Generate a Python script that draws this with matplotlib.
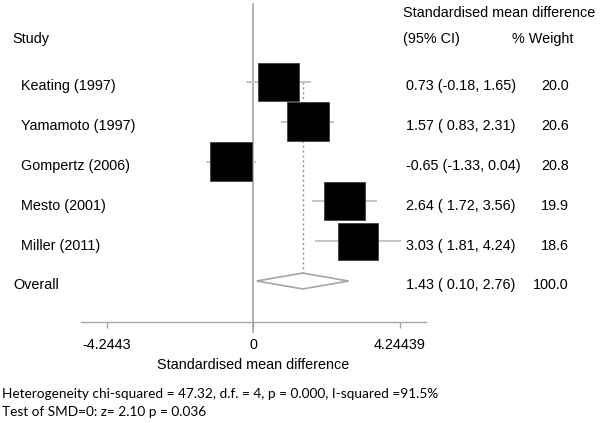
import matplotlib
matplotlib.use("Agg")
import matplotlib.pyplot as plt
import matplotlib.transforms as mtransforms
from matplotlib.patches import Rectangle, Polygon
import numpy as np

# study level data
studies = ["Keating (1997)", "Yamamoto (1997)", "Gompertz (2006)", "Mesto (2001)", "Miller (2011)"]
smd = [0.73, 1.57, -0.65, 2.64, 3.03]
ci_low = [-0.18, 0.83, -1.33, 1.72, 1.81]
ci_high = [1.65, 2.31, 0.04, 3.56, 4.24]
weights = [20.0, 20.6, 20.8, 19.9, 18.6]

# pooled estimate
overall_smd = 1.43
overall_low = 0.10
overall_high = 2.76
overall_weight = 100.0

xticks = [-4.2443, 0, 4.24439]
xtick_labels = ["-4.2443", "0", "4.24439"]
footer = [
    "Heterogeneity chi-squared = 47.32, d.f. = 4, p = 0.000, I-squared =91.5%",
    "Test of SMD=0: z= 2.10 p = 0.036",
]

plt.rcParams["font.family"] = ["Liberation Sans", "DejaVu Sans"]
FS = 10.4
GREY = "#a6a6a6"


def main():
    fig = plt.figure(figsize=(6.0, 4.23), dpi=100)
    ax = fig.add_axes([0.1345, 0.2397, 0.5755, 0.7508])
    ax.set_xlim(-5.0, 5.0)
    ax.set_ylim(7.02, -0.96)

    rows = np.arange(1, len(studies) + 1)
    overall_row = len(studies) + 1

    # null line, slightly past the axis
    ax.axvline(0, ymin=-0.032, ymax=1, color=GREY, lw=1.2, clip_on=False, zorder=1)
    # pooled estimate line
    ax.plot([overall_smd, overall_smd], [rows[0], overall_row + 0.2],
            color="#909090", lw=1.0, ls=(0, (1.5, 2)), zorder=1)

    for r, est, lo, hi, w in zip(rows, smd, ci_low, ci_high, weights):
        ax.plot([lo, hi], [r, r], color="#c4c4c4", lw=1.4, zorder=2)
        bw = 0.2674 * np.sqrt(w)
        bh = 0.2148 * np.sqrt(w)
        ax.add_patch(Rectangle((est - bw / 2, r - bh / 2), bw, bh,
                               facecolor="black", edgecolor="#404040", lw=0.6, zorder=3))

    diamond = Polygon([(overall_low, overall_row), (overall_smd, overall_row - 0.2),
                       (overall_high, overall_row), (overall_smd, overall_row + 0.2)],
                      closed=True, facecolor="white", edgecolor=GREY, lw=1.2, zorder=3)
    ax.add_patch(diamond)

    # axis styling
    for side in ["left", "right", "top"]:
        ax.spines[side].set_visible(False)
    ax.spines["bottom"].set_color(GREY)
    ax.spines["bottom"].set_linewidth(1.0)
    ax.set_yticks([])
    ax.set_xticks(xticks)
    ax.set_xticklabels(xtick_labels)
    ax.tick_params(axis="x", length=4, width=1.0, color=GREY, pad=8, labelsize=FS)
    ax.set_xlabel("Standardised mean difference", fontsize=FS, labelpad=4)

    # text columns outside the plot area
    tr = mtransforms.blended_transform_factory(fig.transFigure, ax.transData)
    off = 0.21
    ax.text(0.021, 0.02, "Study", transform=tr, fontsize=FS, va="baseline", clip_on=False)
    ax.text(0.672, -0.626, "Standardised mean difference", transform=tr, fontsize=FS,
            va="baseline", clip_on=False)
    ax.text(0.672, 0.02, "(95% CI)", transform=tr, fontsize=FS, va="baseline", clip_on=False)
    ax.text(0.853, 0.02, "% Weight", transform=tr, fontsize=FS, va="baseline", clip_on=False)

    for r, name, est, lo, hi, w in zip(rows, studies, smd, ci_low, ci_high, weights):
        ax.text(0.0345, r + off, name, transform=tr, fontsize=FS, va="baseline", clip_on=False)
        ax.text(0.677, r + off, f"{est:.2f} ({lo:5.2f}, {hi:.2f})", transform=tr,
                fontsize=FS, va="baseline", clip_on=False)
        ax.text(0.948, r + off, f"{w:.1f}", transform=tr, fontsize=FS, va="baseline",
                ha="right", clip_on=False)

    ax.text(0.0225, overall_row + off, "Overall", transform=tr, fontsize=FS, va="baseline",
            clip_on=False)
    ax.text(0.677, overall_row + off,
            f"{overall_smd:.2f} ({overall_low:5.2f}, {overall_high:.2f})", transform=tr,
            fontsize=FS, va="baseline", clip_on=False)
    ax.text(0.948, overall_row + off, f"{overall_weight:.1f}", transform=tr, fontsize=FS,
            va="baseline", ha="right", clip_on=False)

    # footer with the test statistics, sized so the first line spans ~436 px
    t1 = fig.text(0.003, 1 - 394 / 423, footer[0], family=["Lato", "DejaVu Sans"],
                  fontsize=10, va="center")
    t2 = fig.text(0.003, 1 - 412 / 423, footer[1], family=["Lato", "DejaVu Sans"],
                  fontsize=10, va="center")
    renderer = fig.canvas.get_renderer()
    width = t1.get_window_extent(renderer).width
    new_fs = 10 * 436 / width
    t1.set_fontsize(new_fs)
    t2.set_fontsize(new_fs)

    fig.savefig("out.png", dpi=100)


if __name__ == "__main__":
    main()
